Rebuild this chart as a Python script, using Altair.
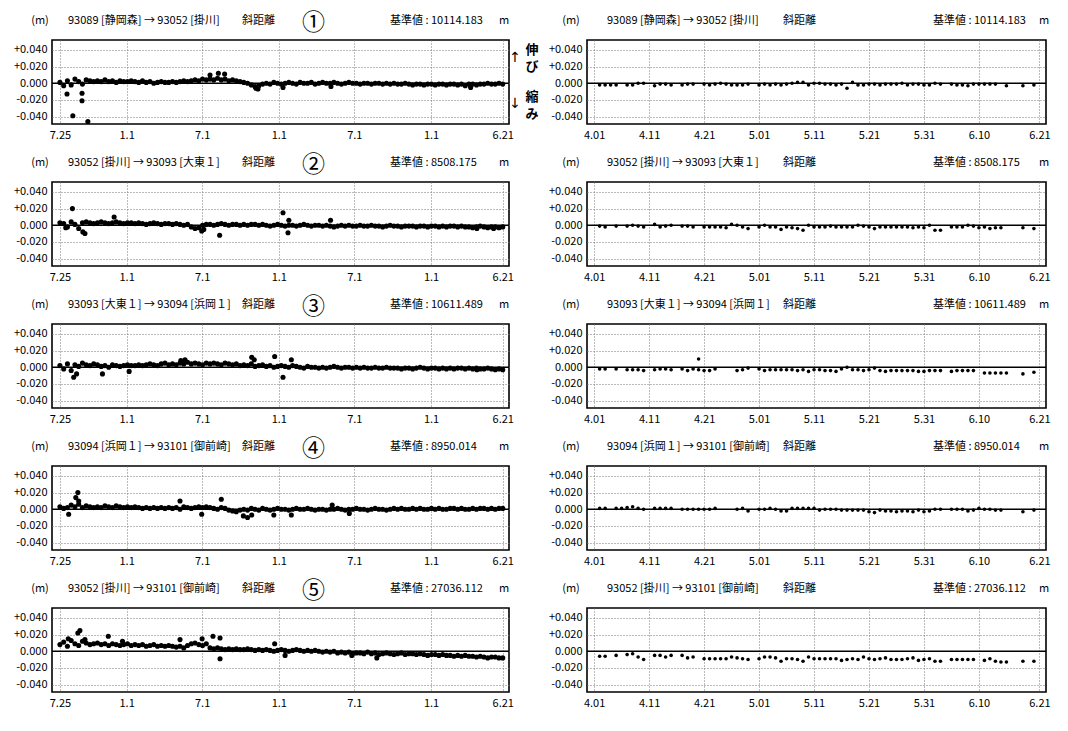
import altair as alt
import pandas as pd

FONT = "Noto Sans CJK JP"

# ---------------- left panels: 1997-07-25 (day 0) .. 2000-06-21 (day 1062) ----------------
L_TICKS = [0, 160, 341, 525, 706, 890, 1062]
L_LABELS = ["7.25", "1.1", "7.1", "1.1", "7.1", "1.1", "6.21"]
BAND_DAYS = list(range(0, 1063, 9))  # sampling grid of the dense band (119 samples)

# band values (mm)
band_1 = [1, -3, 3, -2, 5, 2, -1, 4, 3, 2,
          3, 2, 4, 2, 3, 1, 3, 2, 2, 3,
          2, 1, 3, 1, 2, 0, 1, 2, 1, 1,
          2, 1, 2, 3, 2, 3, 4, 3, 5, 4,
          5, 4, 6, 4, 5, 3, 4, 3, 2, 1,
          0, -2, -4, -3, -1, 0, -1, 1, 0, -1,
          0, 1, 0, -1, 1, 0, 0, 1, -1, 0,
          1, 0, 0, 1, 0, -1, 0, 1, 0, 0,
          -1, 0, 0, -1, 0, 0, -1, 0, -1, 0,
          -1, -1, 0, -1, -2, -1, -1, -2, -1, -1,
          -2, -1, -1, -2, -1, -1, -2, -1, -3, -1,
          -1, -2, -1, -1, 0, -1, -1, 0, -1]
band_2 = [3, 2, -2, 4, 1, -4, 3, 4, 3, 2,
          3, 4, 3, 2, 3, 4, 3, 2, 3, 3,
          2, 3, 2, 1, 2, 3, 2, 1, 2, 2,
          1, 2, 1, 0, 1, -2, -4, -3, 0, 1,
          1, 0, 1, 2, 1, 0, 1, 1, 0, 1,
          0, 1, 1, 0, 1, 0, -1, 0, 1, 0,
          -1, 0, 0, -1, 0, 1, 0, -1, 0, 0,
          -1, 0, -1, -2, -1, 0, -1, 0, -1, -1,
          0, -1, -1, 0, -1, -1, -2, -1, 0, -1,
          -1, -2, -1, -1, -1, -2, -1, -1, -2, -1,
          -1, -2, -1, -2, -1, -1, -2, -1, -2, -2,
          -3, -2, -1, -2, -3, -2, -2, -3, -2]
band_3 = [2, -2, 4, -4, 3, 1, 5, 3, 2, 4,
          3, 1, 2, 0, 3, 2, 1, 2, 3, 2,
          2, 3, 2, 3, 4, 3, 2, 4, 5, 3,
          4, 3, 5, 4, 6, 4, 5, 4, 3, 5,
          4, 5, 4, 3, 5, 4, 3, 4, 2, 3,
          2, 4, 1, 2, 3, 1, 2, 0, 1, 2,
          1, 0, 2, 1, 0, -1, 1, 0, 0, -1,
          0, -1, 0, 1, 0, -1, 0, 0, -1, 0,
          -1, 0, -1, -1, 0, -1, -1, 0, -1, -1,
          -1, -2, -1, -1, -2, -1, 0, -1, -2, -1,
          -1, -2, -1, -2, -1, -2, -1, -1, -2, -1,
          -2, -1, -2, -2, -1, -2, -3, -2, -3]
band_4 = [3, 1, 2, 5, 3, 6, 2, 4, 3, 2,
          3, 2, 4, 3, 2, 4, 3, 2, 3, 2,
          3, 2, 1, 2, 1, 2, 1, 2, 1, 2,
          1, 2, 0, 3, 2, 1, 2, 3, 2, 3,
          2, 1, 0, 2, 1, -1, -2, -3, -1, 0,
          -1, 1, 0, -1, 1, 0, -1, 0, 1, 0,
          0, -1, 0, 1, 0, 0, 1, 0, -1, 0,
          0, -1, 0, 0, 1, 0, -1, 0, 0, 1,
          0, 0, -1, 0, 1, 0, 0, -1, 0, 1,
          0, 1, 0, 0, 1, 0, 1, 0, 0, 1,
          0, 1, 0, 0, 1, 1, 0, 1, 0, 0,
          1, 0, 1, 1, 0, 1, 0, 1, 1]
band_5 = [8, 11, 6, 13, 9, 7, 12, 10, 8, 9,
          10, 8, 9, 7, 9, 8, 7, 8, 9, 7,
          8, 7, 8, 6, 7, 8, 6, 7, 6, 7,
          6, 5, 6, 4, 7, 9, 10, 8, 7, 9,
          4, 3, 4, 3, 2, 3, 2, 3, 2, 2,
          3, 2, 1, 2, 1, 2, 1, 0, 1, 2,
          1, 0, 1, 2, 1, 0, 1, 0, 1, 0,
          -1, 0, -1, 0, -2, -1, -2, -1, -3, -2,
          -2, -3, -1, -3, -2, -4, -3, -2, -3, -4,
          -3, -2, -4, -3, -3, -4, -3, -4, -5, -4,
          -4, -5, -4, -5, -5, -6, -5, -6, -5, -6,
          -6, -7, -6, -7, -8, -7, -7, -8, -8]

# scattered points outside the band (day, mm)
out_1_d = [17, 53, 53, 31, 67, 360, 380, 395, 470, 475, 535, 650, 985]
out_1_v = [-13, -12, -21, -39, -46, 10, 12, 11, -6, -7, -5, -4, -5]
out_2_d = [30, 130, 14, 55, 60, 340, 345, 383, 535, 549, 547, 649, 1040, 1000]
out_2_v = [20, 10, -3, -8, -10, -7, -5, -12, 15, 6, -9, 6, -4, -4]
out_3_d = [33, 40, 102, 166, 290, 300, 460, 466, 515, 535, 555, 1000]
out_3_v = [-12, -8, -8, -5, 8, 9, 12, 9, 13, -12, 9, -3]
out_4_d = [21, 38, 43, 45, 288, 340, 387, 440, 450, 460, 513, 555, 653, 694]
out_4_v = [-6, 14, 20, 10, 10, -6, 12, -8, -10, -7, -7, -7, 5, -5]
out_5_d = [20, 43, 48, 60, 116, 150, 288, 341, 367, 384, 384, 515, 540, 700, 760]
out_5_v = [15, 22, 25, 14, 18, 12, 14, 15, 18, 16, -9, 9, -5, -5, -8]

# ---------------- right panels: 2000-04-01 (day 0) .. 2000-06-21 (day 81) ----------------
R_TICKS = [0, 10, 20, 30, 40, 50, 60, 70, 81]
R_LABELS = ["4.01", "4.11", "4.21", "5.01", "5.11", "5.21", "5.31", "6.10", "6.21"]

r1_d = [1, 2, 3, 4, 6, 7, 8, 9, 11, 12, 13, 14, 16, 17, 18,
        20, 21, 22, 23, 24, 25, 26, 27, 28,
        30, 31, 32, 33, 34, 35, 36, 37, 38, 39, 40, 41, 42, 43, 44, 45, 46,
        47, 48, 49, 50, 51, 52, 53, 54, 55, 56, 57, 58, 59, 60, 61, 62, 63,
        65, 66, 67, 68, 69, 70, 71, 72, 73, 75, 78, 80]
r1_v = [-2, -2, -2, -2, -2, -2, 0, 0, -3, -1, -1, -2, -2, -1, -1,
        -1, -2, -1, 0, -1, -2, -2, -2, -1,
        -2, -1, -2, -1, -2, -1, 0, 1, 1, -2, 0, 0, -1, -1, -2, -1, -6,
        1, -2, -2, -1, -1, -2, -1, -1, -1, 0, -2, -1, -1, -2, -2, 0, -1,
        -1, -2, -2, -3, -1, -1, -1, -1, -1, -3, -3, -2]

r2_d = [1, 2, 4, 6, 7, 8, 9, 11, 12, 13, 14, 16, 17, 18,
        20, 21, 22, 23, 24, 25, 26, 27, 28,
        30, 31, 32, 33, 34, 35, 36, 37, 38, 39, 40, 41, 42, 43, 44, 45, 46,
        47, 48, 49, 50, 51, 52, 53, 54, 55, 56, 57, 58, 59, 60, 61, 62, 63,
        65, 66, 67, 68, 69, 70, 71, 72, 73, 74, 78, 80]
r2_v = [-1, -2, -1, -1, 0, -1, -2, 1, -2, -1, 0, -1, -1, -2,
        -2, -2, -2, -2, -3, 1, 0, -2, -4,
        -2, 0, -2, -2, -5, -2, -3, -4, -6, 0, -2, -2, -2, -1, -2, -2, -2,
        -2, 0, -1, -2, -4, -2, -2, -2, -2, -2, -2, -3, -2, -3, 0, -6, -6,
        -2, -2, -2, 0, -1, -3, -2, -4, -3, -3, -3, -4]

r3_d = [1, 2, 4, 6, 7, 8, 9, 11, 12, 13, 14,
        16, 17, 18, 19, 19, 20, 21, 22, 26, 27, 28,
        30, 31, 32, 33, 34, 35, 36, 37, 38, 39, 40, 41, 42, 43, 44, 45, 46,
        47, 48, 49, 50, 51, 52, 53, 54, 55, 56, 57, 58, 59, 60, 61, 62, 63,
        65, 66, 67, 68, 69, 71, 72, 73, 74, 75, 78, 80]
r3_v = [-2, -2, -2, -3, -3, -3, -4, -3, -2, -2, -3,
        -2, -4, -2, -3, 10, -4, -4, -2, -4, -3, -1,
        -2, -4, -3, -3, -3, -3, -3, -4, -3, -5, -3, -3, -4, -4, -5, -2, 0,
        -3, -3, -4, -3, -1, -4, -5, -4, -4, -4, -4, -4, -5, -5, -4, -4, -4,
        -5, -4, -4, -4, -4, -7, -7, -7, -7, -7, -8, -6]

r4_d = [1, 2, 4, 5, 6, 7, 8, 9, 11, 12, 13, 14,
        16, 17, 18, 19, 20, 21, 22, 26, 27, 28,
        30, 31, 32, 33, 34, 35, 36, 37, 38, 39, 40, 41, 42, 43, 44, 45, 46,
        47, 48, 49, 50, 51, 52, 53, 54, 55, 56, 57, 58, 59, 60, 61, 62, 63,
        65, 66, 67, 68, 69, 70, 71, 72, 73, 74, 78, 80]
r4_v = [1, 1, 1, 1, 2, 3, 1, 0, 1, 1, 1, 1,
        0, 0, 0, 0, 0, 0, 1, 0, 1, -2,
        0, 0, 1, 0, -2, -2, 1, 1, 1, 1, 1, -1, 0, 0, 0, -1, -1,
        -1, -1, -1, -3, -4, -1, -2, -2, -3, -2, -2, -3, -1, -3, -2, 0, 0,
        0, 0, 0, -2, -1, 1, 0, 0, -1, -1, -3, -1]

r5_d = [1, 2, 4, 6, 7, 8, 9, 11, 12, 13, 14, 16, 17, 18,
        20, 21, 22, 23, 24, 25, 26, 27, 28,
        30, 31, 32, 33, 34, 35, 36, 37, 38, 39, 40, 41, 42, 43, 44, 45, 46,
        47, 48, 49, 50, 51, 52, 53, 54, 55, 56, 57, 58, 59, 60, 61, 62, 63,
        65, 66, 67, 68, 69, 71, 72, 73, 74, 75, 78, 80]
r5_v = [-6, -6, -5, -4, -3, -7, -10, -5, -5, -7, -5, -5, -8, -7,
        -9, -9, -9, -9, -9, -7, -8, -9, -10,
        -9, -7, -7, -8, -12, -9, -9, -10, -12, -7, -9, -9, -9, -9, -9, -11, -10,
        -9, -10, -7, -9, -10, -9, -8, -10, -10, -10, -9, -8, -11, -10, -9, -12, -12,
        -10, -10, -10, -10, -10, -11, -9, -12, -13, -13, -12, -12]

# ---------------- panel texts ----------------
routes = ["93089 [静岡森] → 93052 [掛川]",
          "93052 [掛川] → 93093 [大東１]",
          "93093 [大東１] → 93094 [浜岡１]",
          "93094 [浜岡１] → 93101 [御前崎]",
          "93052 [掛川] → 93101 [御前崎]"]
bases = ["10114.183", "8508.175", "10611.489", "8950.014", "27036.112"]
circles = ["①", "②", "③", "④", "⑤"]
KIND = "斜距離"
UNIT = "(m)"

# ---------------- layout ----------------
LW, RW, H = 457, 459, 84
YDOM = [-0.049, 0.052]
LDOM = [-19, 1077]
RDOM = [-1.3, 82.2]
Y_TICKS = [-0.04, -0.02, 0.0, 0.02, 0.04]
YEXPR = ("datum.value > 0.03 ? '+0.040' : datum.value > 0.01 ? '+0.020' : "
         "datum.value > -0.01 ? '0.000' : datum.value > -0.03 ? '-0.020' : '-0.040'")


def xexpr(ticks, labels):
    return "[" + ",".join("'%s'" % s for s in labels) + "][indexof([" + \
        ",".join(str(t) for t in ticks) + "], datum.value)]"


def txt(s, x, y, size=11, align="left", weight="normal", font=FONT):
    return alt.Chart(pd.DataFrame({"t": [s]})).mark_text(
        align=align, baseline="middle", fontSize=size, font=font,
        fontWeight=weight, color="black", fill="black"
    ).encode(text="t:N", x=alt.value(x), y=alt.value(y))


def yenc():
    return alt.Y("v:Q", scale=alt.Scale(domain=YDOM, nice=False, zero=False),
                 axis=alt.Axis(values=Y_TICKS, labelExpr=YEXPR, title=None))


def panel(df, w, xdom, ticks, labels, i, left, size):
    x = alt.X("d:Q", scale=alt.Scale(domain=xdom, nice=False, zero=False),
              axis=alt.Axis(values=ticks, labelExpr=xexpr(ticks, labels), title=None,
                            labelOverlap=False, labelFlush=False))
    zero = alt.Chart(pd.DataFrame({"v": [0.0]})).mark_rule(
        color="black", strokeWidth=1.6).encode(y=yenc())
    pts = alt.Chart(df).mark_circle(size=size, color="black", opacity=1).encode(x=x, y=yenc())
    if left:
        layers = [zero, pts,
                  txt(UNIT, -12, -19, align="center"),
                  txt(routes[i], 16, -19),
                  txt(KIND, 190, -19),
                  txt(circles[i], 250, -17, size=23),
                  txt("基準値 : " + bases[i], 338, -19),
                  txt("m", 447, -19)]
        if i == 0:
            layers += [txt("\u2191\ufe0e", 463, 18, size=14, align="center", font="DejaVu Sans"),
                       txt("伸", 480, 10, size=13, weight="bold", align="center"),
                       txt("び", 480, 27, size=13, weight="bold", align="center"),
                       txt("\u2193\ufe0e", 463, 64, size=14, align="center", font="DejaVu Sans"),
                       txt("縮", 480, 57, size=13, weight="bold", align="center"),
                       txt("み", 480, 74, size=13, weight="bold", align="center")]
    else:
        layers = [zero, pts,
                  txt(UNIT, -16, -19, align="center"),
                  txt(routes[i], 20, -19),
                  txt(KIND, 196, -19),
                  txt("基準値 : " + bases[i], 346, -19),
                  txt("m", 452, -19)]
    return alt.layer(*layers).properties(width=w, height=H)


bands = [band_1, band_2, band_3, band_4, band_5]
outs = [(out_1_d, out_1_v), (out_2_d, out_2_v), (out_3_d, out_3_v),
        (out_4_d, out_4_v), (out_5_d, out_5_v)]
rights = [(r1_d, r1_v), (r2_d, r2_v), (r3_d, r3_v), (r4_d, r4_v), (r5_d, r5_v)]

panels = []
for i in range(5):
    bdf = pd.DataFrame({"d": BAND_DAYS, "v": bands[i]})
    odf = pd.DataFrame({"d": outs[i][0], "v": outs[i][1]})
    ldf = pd.concat([bdf, odf], ignore_index=True)
    ldf["v"] = ldf["v"] / 1000.0
    rdf = pd.DataFrame({"d": rights[i][0], "v": rights[i][1]})
    rdf["v"] = rdf["v"] / 1000.0
    panels.append(panel(ldf, LW, LDOM, L_TICKS, L_LABELS, i, True, 26))
    panels.append(panel(rdf, RW, RDOM, R_TICKS, R_LABELS, i, False, 13))

chart = alt.concat(*panels, columns=2, spacing={"row": 58, "column": 78},
                   bounds="flush").properties(
    padding={"left": 4, "top": 3, "right": 0, "bottom": 0},
    background="white",
).configure_view(
    stroke="black", strokeWidth=1.6
).configure_axis(
    grid=True, gridDash=[1, 2], gridColor="#777", gridWidth=1,
    domain=False, ticks=False, labelFont=FONT, labelFontSize=11,
    labelColor="black", labelPadding=5
)

chart.save("out.html", embed_options={"renderer": "svg", "actions": False})
